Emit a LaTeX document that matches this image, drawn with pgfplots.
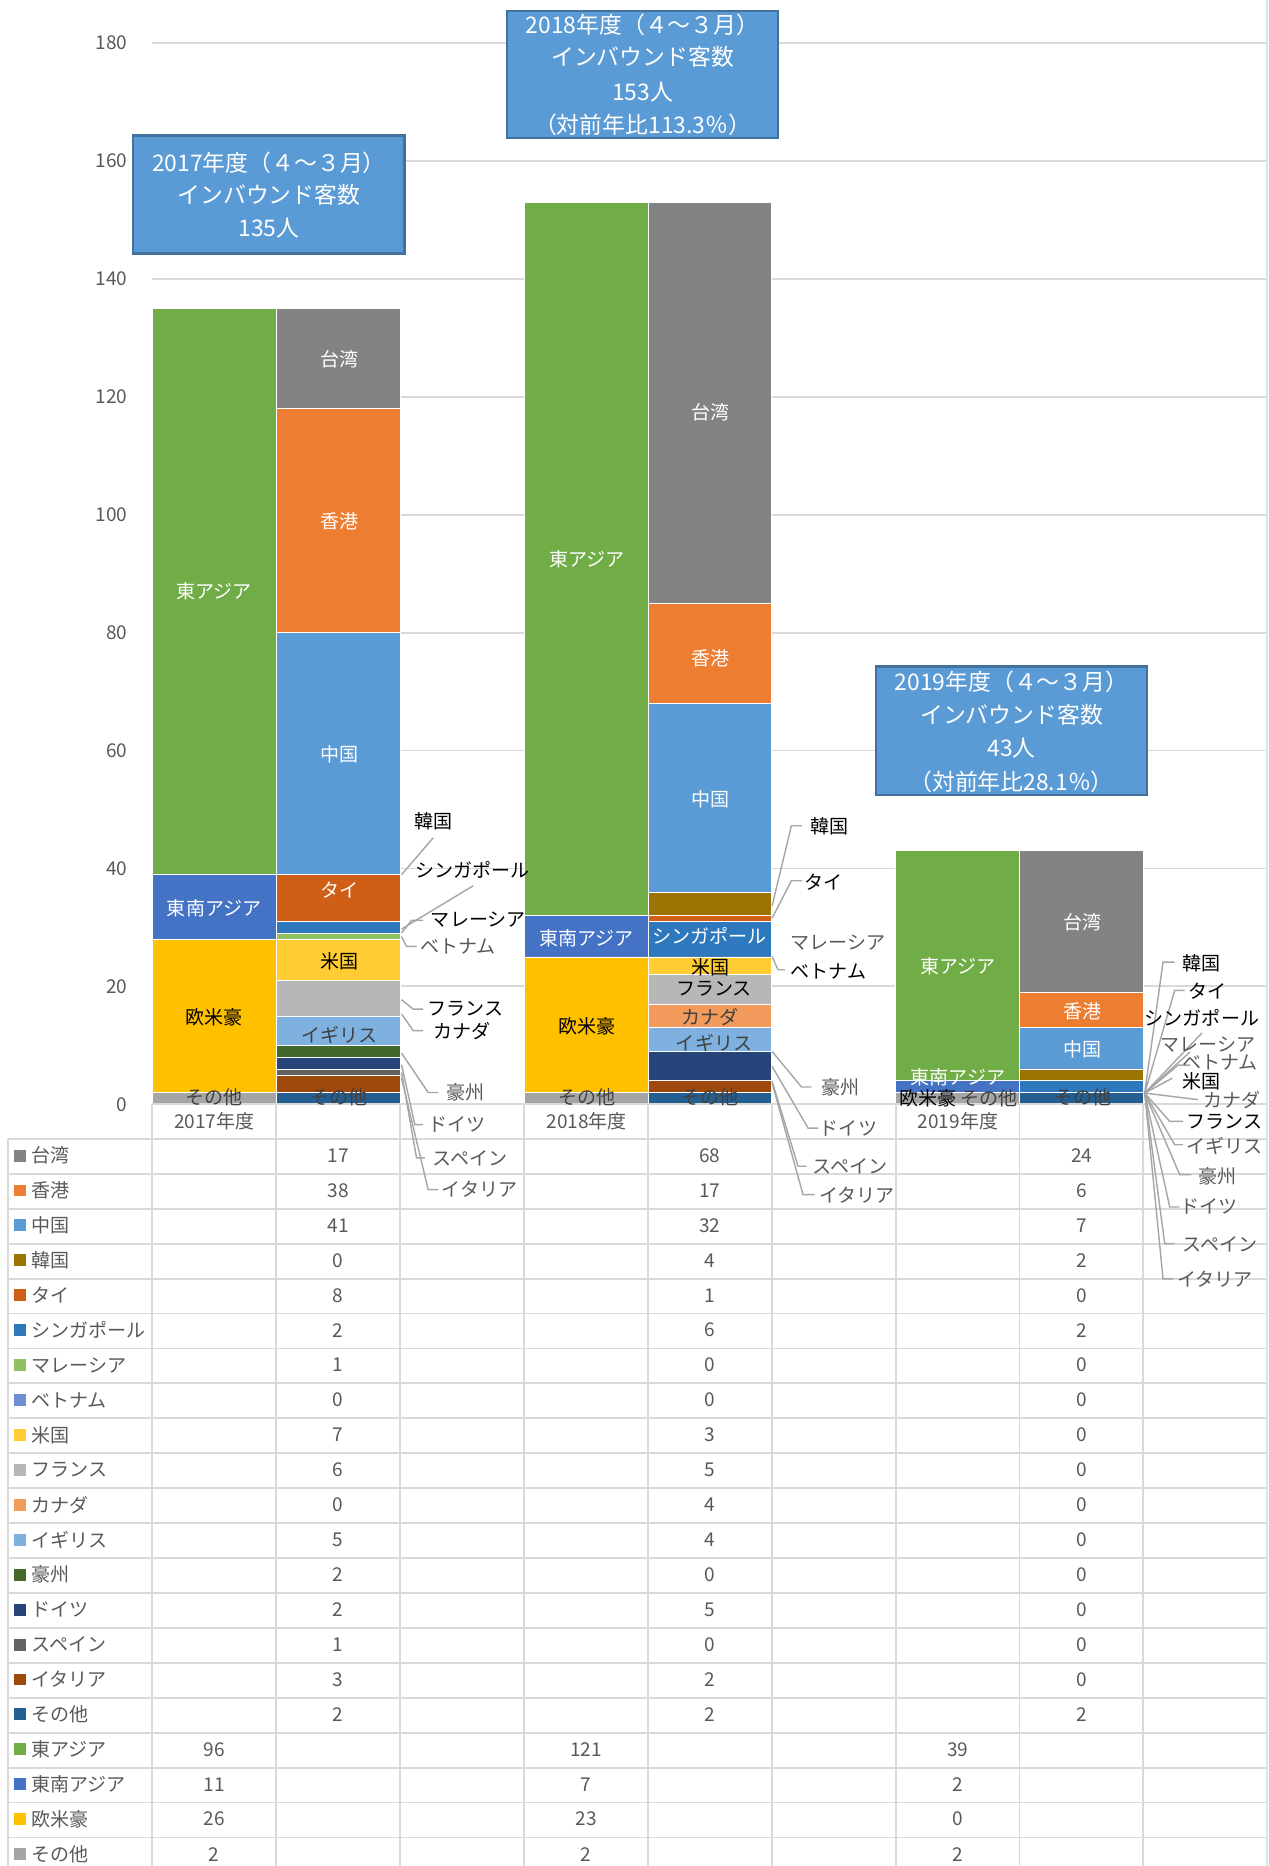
\documentclass[border=0pt]{standalone}
\usepackage{fontspec}
\setmainfont{Noto Sans CJK JP}
\usepackage{pgfplots}
\usepackage{pgfplotstable}
\pgfplotsset{compat=1.18}

% series colours
\definecolor{ctw}{HTML}{838383}
\definecolor{chk}{HTML}{ED7D31}
\definecolor{ccn}{HTML}{5B9BD5}
\definecolor{ckr}{HTML}{9A7300}
\definecolor{cth}{HTML}{CF5F17}
\definecolor{csg}{HTML}{2E78BE}
\definecolor{cmy}{HTML}{8FC163}
\definecolor{cvn}{HTML}{6E8FD3}
\definecolor{cus}{HTML}{FFCD33}
\definecolor{cfr}{HTML}{B7B7B7}
\definecolor{cca}{HTML}{F29B5C}
\definecolor{cuk}{HTML}{7EB1E0}
\definecolor{cau}{HTML}{43682B}
\definecolor{cde}{HTML}{26447A}
\definecolor{ces}{HTML}{636363}
\definecolor{cit}{HTML}{9E480E}
\definecolor{cot}{HTML}{255E91}
\definecolor{cea}{HTML}{70AD47}
\definecolor{csea}{HTML}{4472C4}
\definecolor{cewa}{HTML}{FFC000}
\definecolor{coth}{HTML}{A5A5A5}
\definecolor{txt}{HTML}{595959}
\definecolor{dk}{HTML}{404040}
\definecolor{gridc}{HTML}{D9D9D9}
\definecolor{leader}{HTML}{A6A6A6}
\definecolor{boxfill}{HTML}{5B9BD5}
\definecolor{boxline}{HTML}{41719C}

\newcommand\lbl{\fontsize{8}{9}\selectfont}
\newcommand\boxf{\fontsize{9.6}{14}\selectfont}

% x: 0/1 = 2017 (region / country), 3/4 = 2018, 6/7 = 2019
\pgfplotstableread{
x tw hk cn kr th sg my vn us fr ca uk au de es it ot ea sea ewa oth
0 0 0 0 0 0 0 0 0 0 0 0 0 0 0 0 0 0 96 11 26 2
1 17 38 41 0 8 2 1 0 7 6 0 5 2 2 1 3 2 0 0 0 0
3 0 0 0 0 0 0 0 0 0 0 0 0 0 0 0 0 0 121 7 23 2
4 68 17 32 4 1 6 0 0 3 5 4 4 0 5 0 2 2 0 0 0 0
6 0 0 0 0 0 0 0 0 0 0 0 0 0 0 0 0 0 39 2 0 2
7 24 6 7 2 0 2 0 0 0 0 0 0 0 0 0 0 2 0 0 0 0
}\datatable

\begin{document}
\begin{tikzpicture}
\useasboundingbox (0,0) rectangle (533pt,-784pt);
\begin{axis}[
    at={(64pt,-464pt)}, anchor=south west,
    scale only axis, width=468.5pt, height=446pt,
    xmin=-0.5, xmax=8.5, ymin=0, ymax=180,
    ytick={0,20,...,180}, xtick=\empty,
    ymajorgrids, grid style={draw=gridc, line width=0.8pt},
    axis line style={draw=none}, tick style={draw=none},
    /pgf/number format/assume math mode=true,
    yticklabel style={font=\lbl, text=txt, xshift=-7pt},
    ybar stacked, bar width=1,
    every axis plot/.append style={draw=white, line width=0.3pt},
    clip=false,
]
\pgfplotsinvokeforeach{oth,ewa,sea,ea,ot,it,es,de,au,uk,ca,fr,us,vn,my,sg,th,kr,cn,hk,tw}{
  \addplot[fill=c#1] table[x=x, y=#1] {\datatable};
}
\end{axis}

\begin{scope}[x=0.5pt, y=-0.5pt, every node/.style={font=\lbl, inner sep=0pt}]
% data table grid
\foreach \k in {0,...,21}
  \draw[gridc, line width=0.8pt] (7,{957+29.35*\k}) -- (1065,{957+29.35*\k});
\draw[gridc, line width=0.8pt] (7,957) -- (7,1580);
\foreach \j in {0,...,9}
  \draw[gridc, line width=0.8pt] ({128+104.1*\j},928) -- ({128+104.1*\j},1580);
\draw[gridc, line width=0.8pt] (128,928) -- (1065,928);
\draw[white!75!boxfill, line width=0.8pt] (1065,0) -- (1065,1580);

% category labels
\node[text=txt] at (180,942) {2017年度};
\node[text=txt] at (493,942) {2018年度};
\node[text=txt] at (805,942) {2019年度};

% table rows: country series
\foreach \s/\nm [count=\i from 0] in {tw/台湾,hk/香港,cn/中国,kr/韓国,th/タイ,sg/シンガポール,my/マレーシア,vn/ベトナム,us/米国,fr/フランス,ca/カナダ,uk/イギリス,au/豪州,de/ドイツ,es/スペイン,it/イタリア,ot/その他}{
  \pgfmathsetmacro\yy{971+29.35*\i}
  \fill[c\s] (12,{\yy-5}) rectangle (22,{\yy+5});
  \node[anchor=west, text=txt] at (26,\yy) {\nm};
  \foreach \r/\cx in {1/284.2,3/596.6,5/909.0}{
    \pgfplotstablegetelem{\r}{\s}\of\datatable
    \node[text=txt] at (\cx,\yy) {\pgfplotsretval};
  }
}
% table rows: region series
\foreach \s/\nm [count=\i from 17] in {ea/東アジア,sea/東南アジア,ewa/欧米豪,oth/その他}{
  \pgfmathsetmacro\yy{971+29.35*\i}
  \fill[c\s] (12,{\yy-5}) rectangle (22,{\yy+5});
  \node[anchor=west, text=txt] at (26,\yy) {\nm};
  \foreach \r/\cx in {0/180.0,2/492.5,4/804.9}{
    \pgfplotstablegetelem{\r}{\s}\of\datatable
    \node[text=txt] at (\cx,\yy) {\pgfplotsretval};
  }
}

% labels inside the bars
\foreach \xx/\yy/\t/\c in {180/497/東アジア/white, 180/763/東南アジア/white, 180/855/欧米豪/black, 180/922/その他/dk,
  285/302/台湾/white, 285/438/香港/white, 285/634/中国/white, 285/748/タイ/white, 285/808/米国/black, 285/870/イギリス/dk, 285/922/その他/dk,
  493/470/東アジア/white, 493/788/東南アジア/white, 493/862/欧米豪/black, 493/922/その他/dk,
  597/346/台湾/white, 597/553/香港/white, 597/672/中国/white, 596/786/シンガポール/white, 597/813/米国/black, 600/831/フランス/black, 597/855/カナダ/dk, 600/876/イギリス/dk, 597/922/その他/dk,
  805/812/東アジア/white, 805/905/東南アジア/white, 780/923/欧米豪/black, 831/923/その他/dk,
  910/775/台湾/white, 910/850/香港/white, 910/882/中国/white, 910/922/その他/dk}
  \node[text=\c] at (\xx,\yy) {\t};

% leader lines
\begin{scope}[leader, line width=0.6pt]
% 2017
\draw (337.4,735) -- (364,704);
\draw (337.4,780.7) -- (397.6,744.3);
\draw (337.4,783.9) -- (345.8,773.4) -- (355.6,773.4);
\draw (337.4,786.9) -- (341.6,795.3) -- (350,795.3);
\draw (337.4,840) -- (347.2,848) -- (355.6,848);
\draw (337.4,852) -- (347.2,866) -- (355.6,866);
\draw (337.4,884.9) -- (359.8,918) -- (368.2,918);
\draw (337.4,894.7) -- (348.6,945) -- (355.6,945);
\draw (337.4,901.1) -- (350,973) -- (357,973);
\draw (337.4,905.9) -- (359.8,999.7) -- (368.2,999.7);
% 2018
\draw (648.8,761.1) -- (665,693.9) -- (674,693.9);
\draw (648.8,771.5) -- (665,740.1) -- (674,740.1);
\draw (648.8,803.7) -- (653.8,814.9) -- (659.5,814.9);
\draw (648.8,883.5) -- (673.5,913.4) -- (681.9,913.4);
\draw (648.8,896.1) -- (679,947.9) -- (687.4,947.9);
\draw (648.8,908.7) -- (670.6,980) -- (677.7,980);
\draw (648.8,910) -- (674.8,1003.9) -- (684.6,1003.9);
% 2019
\coordinate (o) at (961.9,918.5);
\draw (o) -- (977.3,808.4) -- (987.1,808.4);
\draw (o) -- (987.1,832.2) -- (995.5,832.2);
\draw (o) -- (1010,868);
\draw (o) -- (1000,884);
\draw (o) -- (990,895) -- (1000,895);
\draw (o) -- (985,906);
\draw (o) -- (1006.7,924);
\draw (o) -- (982.9,942.3) -- (994.1,942.3);
\draw (o) -- (987.1,961.9) -- (994.1,961.9);
\draw (o) -- (991.3,987.1) -- (1001.1,987.1);
\draw (o) -- (982.9,1014.2) -- (991.3,1014.2);
\draw (o) -- (978.7,1045) -- (987.1,1045);
\draw (o) -- (977.3,1074.7) -- (985.7,1074.7);
\end{scope}

% labels outside the bars
\foreach \xx/\yy/\t/\c in {364/690/韓国/black, 397/731/シンガポール/black, 402/773/マレーシア/black, 385/795/ベトナム/txt,
  388/866/カナダ/black, 391/848/フランス/black, 391/918/豪州/txt, 384/945/ドイツ/txt, 395/973/スペイン/txt, 403/999/イタリア/txt,
  697/694/韓国/black, 692/741/タイ/black, 704/792/マレーシア/txt, 696/816/ベトナム/black,
  706/914/豪州/txt, 713/948/ドイツ/txt, 714/980/スペイン/txt, 720/1004/イタリア/txt,
  1010/809/韓国/black, 1015/833/タイ/black, 1010/855/シンガポール/black, 1015/878/マレーシア/txt, 1025/893/ベトナム/txt,
  1010/909/米国/black, 1035/924/カナダ/txt, 1029/943/フランス/black, 1029/963/イギリス/txt, 1023/988/豪州/txt,
  1016/1014/ドイツ/txt, 1025/1046/スペイン/txt, 1021/1075/イタリア/txt}
  \node[text=\c] at (\xx,\yy) {\t};

% total boxes
\begin{scope}[every node/.style={font=\boxf, text=white, inner sep=0pt}]
\filldraw[fill=boxfill, draw=boxline, line width=1pt] (112,114) rectangle (340,213);
\node at (226,137) {2017年度（４～３月）};
\node at (226,164) {インバウンド客数};
\node at (226,192) {135人};
\filldraw[fill=boxfill, draw=boxline, line width=1pt] (426,9) rectangle (654,116);
\node at (540,21) {2018年度（４～３月）};
\node at (540,48) {インバウンド客数};
\node at (540,77) {153人};
\node at (540,105) {（対前年比113.3％）};
\filldraw[fill=boxfill, draw=boxline, line width=1pt] (736,560) rectangle (964,668);
\node at (850,573) {2019年度（４～３月）};
\node at (850,601) {インバウンド客数};
\node at (850,629) {43人};
\node at (850,657) {（対前年比28.1％）};
\end{scope}
\end{scope}
\end{tikzpicture}
\end{document}
